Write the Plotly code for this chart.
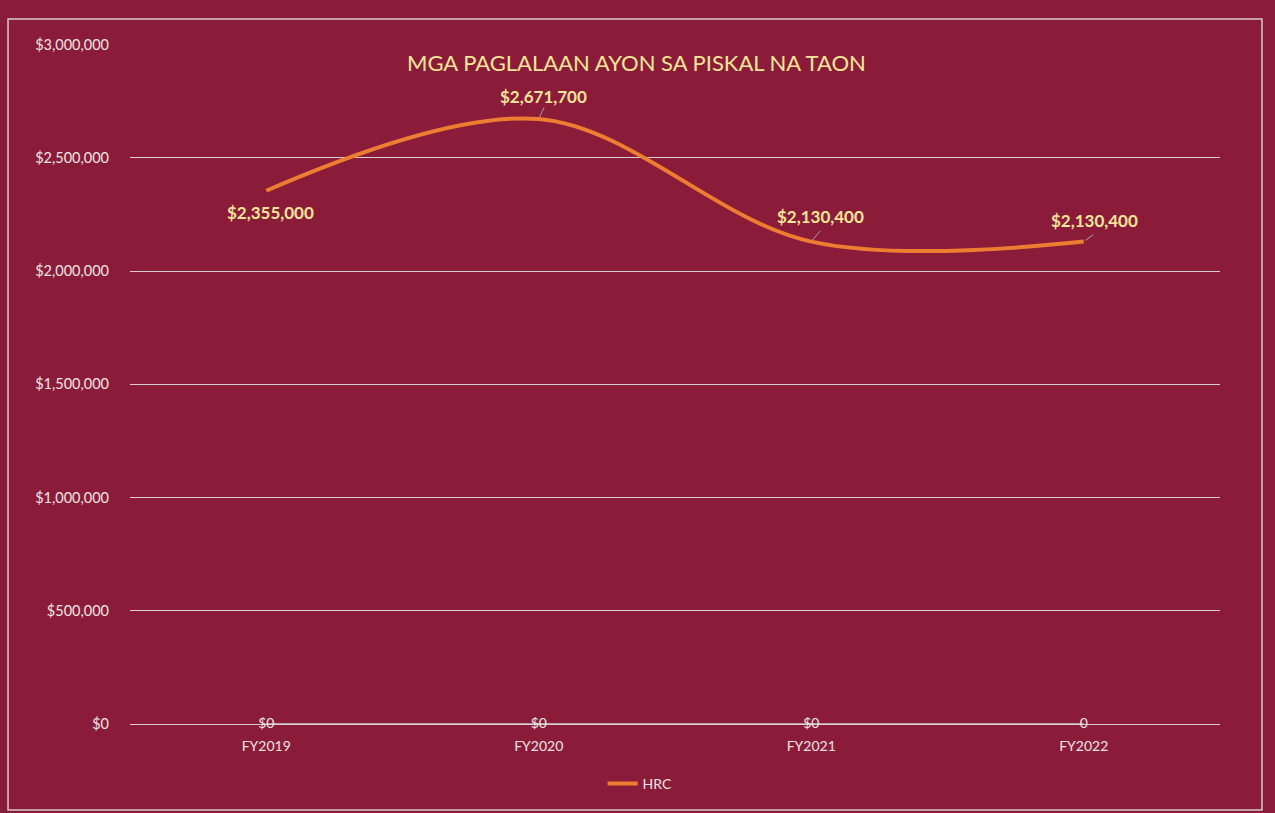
import plotly.graph_objects as go

categories = ["FY2019", "FY2020", "FY2021", "FY2022"]
hrc_values = [2355000, 2671700, 2130400, 2130400]
hrc_labels = ["$2,355,000", "$2,671,700", "$2,130,400", "$2,130,400"]
zero_values = [0, 0, 0, 0]
zero_labels = ["$0", "$0", "$0", "0"]
y_ticks = [0, 500000, 1000000, 1500000, 2000000, 2500000, 3000000]
y_tick_text = ["$" + format(v, ",") for v in y_ticks]
title_text = "MGA PAGLALAAN AYON SA PISKAL NA TAON"

BG = "#8B1C39"
ORANGE = "#ED7D31"
LABEL = "#F7E59A"
TXT = "#EDE3E5"
GRID = "#D9CFD2"

fig = go.Figure()

fig.add_trace(go.Scatter(
    x=categories, y=zero_values, mode="lines+text", text=zero_labels,
    textposition="middle center", cliponaxis=False,
    textfont=dict(family="Lato", size=14, color=TXT),
    line=dict(color="#B8A3A8", width=2), showlegend=False, hoverinfo="skip"))

fig.add_trace(go.Scatter(
    x=categories, y=hrc_values, mode="lines", name="HRC", cliponaxis=False,
    line=dict(color=ORANGE, width=4, shape="spline", smoothing=1.0)))

# label pixel shifts and leader-line ends (pixels, None = no leader)
label_shifts = [(4, -22), (5, 23), (9, 25), (11, 21)]
leader_ends = [None, (6, -13), (10, -12), (11, -8)]
for cat, val, lab, (sx, sy), lead in zip(categories, hrc_values, hrc_labels,
                                         label_shifts, leader_ends):
    if lead is not None:
        fig.add_annotation(x=cat, y=val, text="", showarrow=True, arrowhead=0,
                           arrowwidth=1, arrowcolor="#A9A0A8", ax=lead[0], ay=lead[1],
                           standoff=2)
    fig.add_annotation(
        x=cat, y=val, text="<b>" + lab + "</b>", showarrow=False,
        xshift=sx, yshift=sy,
        font=dict(family="Lato", size=17, color=LABEL))

fig.add_annotation(
    x=0.465, y=1.0, xref="paper", yref="paper", yanchor="bottom",
    yshift=-34, text=title_text, showarrow=False,
    font=dict(family="Lato", size=22, color=LABEL))

# outer border
fig.add_shape(type="rect", xref="paper", yref="paper",
              x0=-0.1119, x1=1.0385, y0=-0.1265, y1=1.0368,
              line=dict(color="#D7C9CC", width=1.5), fillcolor="rgba(0,0,0,0)",
              layer="below")

fig.update_layout(
    width=1275, height=813,
    margin=dict(l=130, r=55, t=44, b=89),
    paper_bgcolor=BG, plot_bgcolor=BG,
    font=dict(family="Lato", color=TXT, size=14),
    showlegend=True,
    legend=dict(orientation="h", x=0.468, xanchor="center", y=-0.088, yanchor="middle",
                font=dict(family="Lato", size=14, color=TXT), bgcolor="rgba(0,0,0,0)"),
    xaxis=dict(type="category", range=[-0.5, 3.5], showgrid=False, showline=False,
               zeroline=False, ticks="", tickfont=dict(size=14, color=TXT),
               ticklabelstandoff=12),
    yaxis=dict(range=[0, 3003000], tickvals=y_ticks, ticktext=y_tick_text,
               showgrid=True, gridcolor=GRID, gridwidth=1, zeroline=True,
               zerolinecolor=GRID, zerolinewidth=1, showline=False, ticks="",
               tickfont=dict(size=14.5, color=TXT), ticklabelstandoff=20),
)

fig.write_html("out.html", config={"displayModeBar": False},
               post_script="document.body.style.margin='0';document.body.style.background='%s';" % BG)
